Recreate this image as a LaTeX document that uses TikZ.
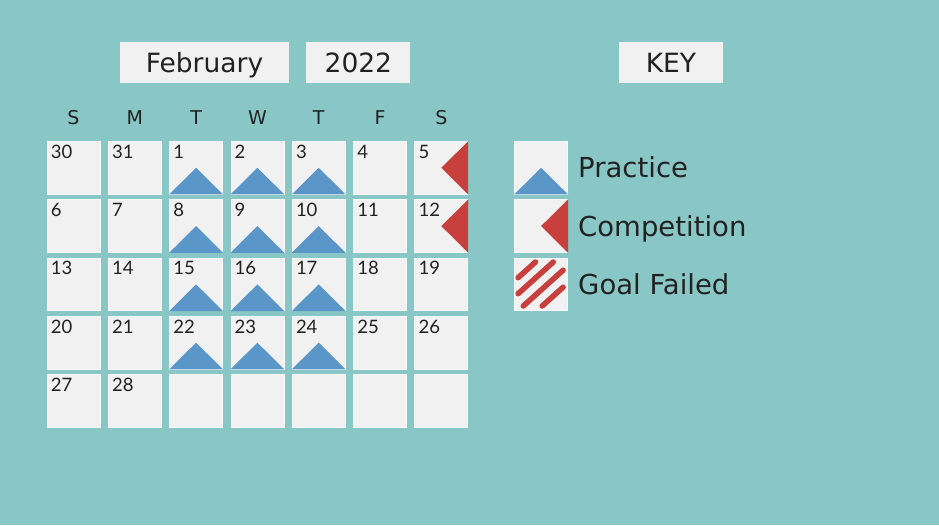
\documentclass[tikz,border=0pt]{standalone}
\usepackage{fontspec}
\setmainfont{DejaVu Sans}
\newfontfamily\numfont{Lato}
\usetikzlibrary{positioning}

\definecolor{bgteal}{HTML}{89C7C6}
\definecolor{cellgray}{HTML}{F1F1F1}
\definecolor{pracblue}{HTML}{5A96C8}
\definecolor{compred}{HTML}{C8403D}
\definecolor{inkdark}{HTML}{222222}

\tikzset{
  daycell/.style={fill=cellgray,draw=white!60!cellgray,line width=0.8pt,
    minimum width=53pt,minimum height=52.5pt,inner sep=0pt},
  headbox/.style={fill=cellgray,minimum height=41pt,inner sep=0pt,
    text height=19pt,text depth=0pt,text=inkdark,font=\fontsize{26.5}{30}\selectfont},
  wkday/.style={text=inkdark,inner sep=0pt,text height=14pt,text depth=0pt,
    font=\fontsize{19}{22}\selectfont},
  daynum/.style={text=inkdark,inner sep=0pt,anchor=base west,
    font=\numfont\fontsize{18.5}{20}\selectfont},
  keytext/.style={text=inkdark,inner sep=0pt,text height=20pt,text depth=0pt,
    font=\fontsize{27.5}{30}\selectfont},
  stripe/.style={compred,line width=5.5pt,line cap=round}
}

\begin{document}
\begin{tikzpicture}[x=1pt,y=-1pt]
  \fill[bgteal] (0,0) rectangle (939,525);

  % header
  \node[headbox,minimum width=169pt] (month) at (204.5,62.5) {February};
  \node[headbox,minimum width=104pt] (year) [right=17pt of month] {2022};
  \node[headbox,minimum width=104pt] (key) at (671,62.5) {KEY};

  % calendar grid
  \foreach \r in {0,...,4}{
    \foreach \c in {0,...,6}{
      \node[daycell] (c-\r-\c) at ({73.5+61.3*\c},{167.8+58.3*\r}) {};
      \pgfmathtruncatemacro\d{7*\r+\c-1}
      \ifnum\d<29
        \node[daynum] (n-\r-\c) at ([xshift=4pt,yshift=-17pt]c-\r-\c.north west)
          {\ifnum\d<1 \the\numexpr\d+31\relax\else\d\fi};
      \fi
      % practice days
      \ifnum\r<4 \ifnum\c>1 \ifnum\c<5
        \fill[pracblue] (c-\r-\c.south west) -- (c-\r-\c.south east) -- (c-\r-\c.center) -- cycle;
      \fi\fi\fi
      % competition days
      \ifnum\r<2 \ifnum\c=6
        \fill[compred] (c-\r-\c.north east) -- (c-\r-\c.south east) -- (c-\r-\c.center) -- cycle;
      \fi\fi
    }
  }

  \foreach \c/\w in {0/S,1/M,2/T,3/W,4/T,5/F,6/S}
    \node[wkday] (wd-\c) at ([yshift=23.5pt]c-0-\c.north) {\w};

  % key
  \node[daycell] (kprac) [right=46pt of c-0-6] {};
  \node[daycell] (kcomp) [right=46pt of c-1-6] {};
  \node[daycell] (kgoal) [right=46pt of c-2-6] {};
  \fill[pracblue] (kprac.south west) -- (kprac.south east) -- (kprac.center) -- cycle;
  \fill[compred] (kcomp.north east) -- (kcomp.south east) -- (kcomp.center) -- cycle;
  \begin{scope}[shift={(kgoal.center)}]
    \draw[stripe] (-23,-6.7) -- (-5.6,-22.4);
    \draw[stripe] (-23,9.3) -- (12.2,-22.4);
    \draw[stripe] (-17.8,21.6) -- (22,-14.2);
    \draw[stripe] (1.1,21.6) -- (22,2.8);
  \end{scope}
  \node[keytext,right=10pt of kprac] (tprac) {Practice};
  \node[keytext,right=10pt of kcomp] (tcomp) {Competition};
  \node[keytext,right=10pt of kgoal] (tgoal) {Goal Failed};
\end{tikzpicture}
\end{document}
